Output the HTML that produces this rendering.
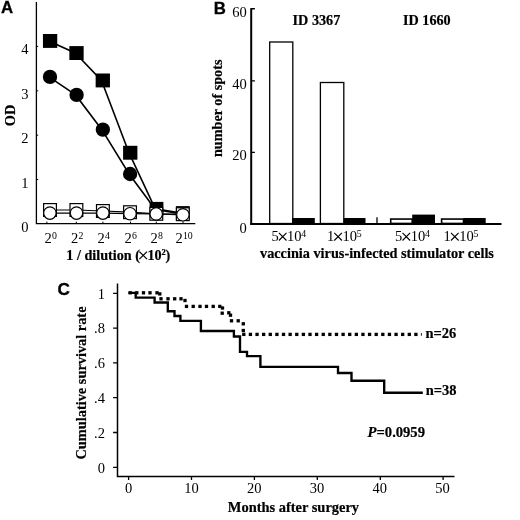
<!DOCTYPE html>
<html>
<head>
<meta charset="utf-8">
<title>Figure</title>
<style>
html,body{margin:0;padding:0;background:#fff;}
body{width:520px;height:520px;overflow:hidden;}
svg{display:block;will-change:transform;opacity:0.9999;}
text{font-family:"Liberation Serif",serif;fill:#000;}
.sans{font-family:"Liberation Sans",sans-serif;font-weight:bold;font-size:16.8px;stroke:#000;stroke-width:0.3px;}
.t{font-size:14.5px;}
.s{font-size:9.8px;}
.lbl{font-size:14.2px;font-weight:bold;stroke:#000;stroke-width:0.2px;}
</style>
</head>
<body>
<svg width="520" height="520" viewBox="0 0 520 520">
<rect x="0" y="0" width="520" height="520" fill="#fff"/>

<g id="panelA">
<text class="sans" x="1" y="13.1">A</text>
<path d="M36.4 2V224.2M35.8 223.6H195.3" stroke="#000" stroke-width="1.3" fill="none"/>
<path d="M36.4 46.4h1.8M36.4 90.8h1.8M36.4 135.2h1.8M36.4 179.5h1.8" stroke="#000" stroke-width="1" fill="none"/>
<path d="M46.9 223.6v-2M76.3 223.6v-2M102.9 223.6v-2M130.5 223.6v-2M156.3 223.6v-2M183 223.6v-2" stroke="#000" stroke-width="1" fill="none"/>
<g class="t" text-anchor="end">
<text x="28.6" y="54.4">4</text>
<text x="28.6" y="98.8">3</text>
<text x="28.6" y="143.2">2</text>
<text x="28.6" y="187.5">1</text>
<text x="28.6" y="231.8">0</text>
</g>
<text class="lbl" transform="translate(15.2,115.5) rotate(-90)" text-anchor="middle" style="font-size:14.4px">OD</text>
<text class="t" x="44.4" y="242.5">2</text><text class="s" x="51.9" y="239.4">0</text>
<text class="t" x="70.9" y="242.5">2</text><text class="s" x="78.4" y="239.4">2</text>
<text class="t" x="97.4" y="242.5">2</text><text class="s" x="104.9" y="239.4">4</text>
<text class="t" x="124.4" y="242.5">2</text><text class="s" x="131.9" y="239.4">6</text>
<text class="t" x="150.6" y="242.5">2</text><text class="s" x="158.1" y="239.4">8</text>
<text class="t" x="175.4" y="242.5">2</text><text class="s" x="182.9" y="239.4">10</text>
<text class="lbl" x="66.3" y="259.6">1 / dilution (</text>
<path d="M139.40 251.60L147.00 259.20M139.40 259.20L147.00 251.60" stroke="#000" stroke-width="1.2" fill="none"/>
<text class="lbl" x="147.4" y="259.6">10</text><text class="lbl" x="161.6" y="255.4" style="font-size:8.5px">2</text><text class="lbl" x="165.4" y="259.6">)</text>
<path d="M48.8 40.9L75.2 53L101.5 80.4L128.95 152.7L155.2 208.8L181.5 213" stroke="#000" stroke-width="1.6" fill="none"/>
<path d="M49.0 76.9L75.6 94.9L101.85 129.65L129.1 174L155.4 209.5L181.8 214" stroke="#000" stroke-width="1.6" fill="none"/>
<g fill="#000">
<rect x="42.95" y="34.00" width="14.3" height="13.9"/>
<rect x="69.35" y="46.10" width="14.3" height="13.9"/>
<rect x="95.65" y="73.50" width="14.3" height="13.9"/>
<rect x="123.10" y="145.80" width="14.3" height="13.9"/>
<rect x="149.60" y="201.90" width="13.8" height="13.9"/>
<rect x="175.90" y="206.10" width="13.8" height="13.9"/>
<circle cx="50" cy="76.9" r="7.15"/>
<circle cx="76.6" cy="94.9" r="7.15"/>
<circle cx="102.85" cy="129.65" r="7.15"/>
<circle cx="130.1" cy="174" r="7.15"/>
</g>
<path d="M50 210L76.4 210L102.9 211L130 212.2L156.3 213.8L182.8 214.2" stroke="#000" stroke-width="1.2" fill="none"/>
<g fill="#fff" stroke="#000" stroke-width="1.2">
<rect x="43.60" y="203.60" width="12.8" height="12.8"/>
<rect x="70.00" y="203.60" width="12.8" height="12.8"/>
<rect x="96.50" y="204.60" width="12.8" height="12.8"/>
<rect x="123.60" y="205.80" width="12.8" height="12.8"/>
<rect x="149.90" y="207.40" width="12.8" height="12.8"/>
<rect x="176.40" y="207.80" width="12.8" height="12.8"/>
</g>
<path d="M49.9 213.1L76.5 213.1L102.9 213.1L130 213.7L156.2 213.9L182.9 214.8" stroke="#000" stroke-width="1.2" fill="none"/>
<g fill="#fff" stroke="#000" stroke-width="1.15">
<circle cx="49.9" cy="213.1" r="6.2"/>
<circle cx="76.5" cy="213.1" r="6.2"/>
<circle cx="102.9" cy="213.1" r="6.2"/>
<circle cx="130" cy="213.7" r="6.2"/>
<circle cx="156.2" cy="213.9" r="6.2"/>
<circle cx="182.9" cy="214.8" r="6.2"/>
</g>
</g>
<g id="panelB">
<text class="sans" x="213.7" y="14.3">B</text>
<path d="M251.2 8.1V224.6" stroke="#000" stroke-width="2" fill="none"/><path d="M250.2 224H501.5" stroke="#000" stroke-width="1.8" fill="none"/>
<path d="M251.2 8.8h3.7M251.2 80.9h3.7M251.2 152.4h3.7" stroke="#000" stroke-width="1.4" fill="none"/>
<g class="t" text-anchor="end">
<text x="246.8" y="17.2">60</text>
<text x="246.8" y="88.9">40</text>
<text x="246.8" y="160.4">20</text>
<text x="246.8" y="232.9">0</text>
</g>
<text class="lbl" transform="translate(222.4,108.3) rotate(-90)" text-anchor="middle">number of spots</text>
<text class="lbl" x="292.6" y="25.1">ID 3367</text>
<text class="lbl" x="403" y="25.1">ID 1660</text>
<g fill="#fff" stroke="#000" stroke-width="1.3">
<rect x="269.7" y="42" width="23.1" height="181.5"/>
<rect x="320.4" y="82.5" width="23.4" height="141.0"/>
</g><g fill="#fff" stroke="#000" stroke-width="1.6">
<rect x="390.7" y="219.05" width="21.5" height="4.4"/>
<rect x="441.6" y="219.05" width="21.9" height="4.4"/>
</g><g fill="#000">
<rect x="292" y="218" width="22.8" height="5.8"/>
<rect x="343.8" y="218" width="21.7" height="5.8"/>
<rect x="412.2" y="214.6" width="22.8" height="9.2"/>
<rect x="463.5" y="218" width="22.2" height="5.8"/>
</g>
<path d="M377 217.2V223.5" stroke="#000" stroke-width="1.3"/>
<text class="t" x="271.5" y="240.9">5</text>
<path d="M278.90 232.90L286.50 240.50M278.90 240.50L286.50 232.90" stroke="#000" stroke-width="1.1" fill="none"/>
<text class="t" x="287.1" y="240.9">10</text><text class="s" x="301.3" y="236.9">4</text>
<text class="t" x="326.9" y="240.9">1</text>
<path d="M334.30 232.90L341.90 240.50M334.30 240.50L341.90 232.90" stroke="#000" stroke-width="1.1" fill="none"/>
<text class="t" x="342.5" y="240.9">10</text><text class="s" x="356.7" y="236.9">5</text>
<text class="t" x="395.1" y="240.9">5</text>
<path d="M402.50 232.90L410.10 240.50M402.50 240.50L410.10 232.90" stroke="#000" stroke-width="1.1" fill="none"/>
<text class="t" x="410.70000000000005" y="240.9">10</text><text class="s" x="424.90000000000003" y="236.9">4</text>
<text class="t" x="443.6" y="240.9">1</text>
<path d="M451.00 232.90L458.60 240.50M451.00 240.50L458.60 232.90" stroke="#000" stroke-width="1.1" fill="none"/>
<text class="t" x="459.20000000000005" y="240.9">10</text><text class="s" x="473.40000000000003" y="236.9">5</text>
<text class="lbl" x="260" y="258" style="font-size:14.27px">vaccinia virus-infected stimulator cells</text>
</g>
<g id="panelC">
<text class="sans" x="57.6" y="295.3" style="font-size:17.2px">C</text>
<path d="M117.5 283.5V477.3M116.8 476.5H454.5" stroke="#000" stroke-width="1.5" fill="none"/>
<path d="M117.5 293.3h-4.4M117.5 328.1h-4.4M117.5 362.9h-4.4M117.5 397.7h-4.4M117.5 432.5h-4.4M117.5 467.3h-4.4" stroke="#000" stroke-width="1.3" fill="none"/>
<path d="M128.6 476.5v3.6M191.5 476.5v3.6M254.4 476.5v3.6M317.3 476.5v3.6M380.3 476.5v3.6M443.1 476.5v3.6" stroke="#000" stroke-width="1.3" fill="none"/>
<g class="t" text-anchor="end">
<text x="104.9" y="298.6">1</text>
<text x="104.9" y="333.4">.8</text>
<text x="104.9" y="368.2">.6</text>
<text x="104.9" y="403.0">.4</text>
<text x="104.9" y="437.8">.2</text>
<text x="104.9" y="472.6">0</text>
</g>
<g class="t" text-anchor="middle">
<text x="128.6" y="493.2">0</text>
<text x="191.4" y="493.2">10</text>
<text x="254.2" y="493.2">20</text>
<text x="317" y="493.2">30</text>
<text x="379.8" y="493.2">40</text>
<text x="442.6" y="493.2">50</text>
</g>
<text class="lbl" transform="translate(86.2,383) rotate(-90)" text-anchor="middle" style="font-size:14.35px">Cumulative survival rate</text>
<text class="lbl" x="227.8" y="511.5" style="font-size:14.45px">Months after surgery</text>
<text class="lbl" x="425.4" y="338.3" style="font-size:14.5px">n=26</text>
<text class="lbl" x="425.8" y="395" style="font-size:14.5px">n=38</text>
<text class="lbl" x="367.6" y="436.9" style="font-size:14.6px"><tspan font-style="italic">P</tspan>=0.0959</text>
<path d="M128.4 292.8H135.7V297.6H154.6V302.5H167.8V311.2H174.5V316H180.4V320.8H200.9V331H233.9V336.5H240V351.8H247V356.1H260.4V366.8H338V373H351.5V380.7H384.2V392.7H422.8" stroke="#000" stroke-width="2.35" fill="none" stroke-linejoin="miter"/>
<g fill="#000">
<rect x="128.55" y="291.15" width="3.3" height="3.3"/>
<rect x="135.15" y="291.15" width="3.3" height="3.3"/>
<rect x="141.85" y="291.15" width="3.3" height="3.3"/>
<rect x="148.35" y="291.15" width="3.3" height="3.3"/>
<rect x="155.35" y="291.15" width="3.3" height="3.3"/>
<rect x="158.15" y="292.25" width="3.3" height="3.3"/>
<rect x="159.35" y="297.15" width="3.3" height="3.3"/>
<rect x="166.35" y="297.15" width="3.3" height="3.3"/>
<rect x="173.05" y="297.15" width="3.3" height="3.3"/>
<rect x="179.35" y="297.15" width="3.3" height="3.3"/>
<rect x="183.35" y="298.85" width="3.3" height="3.3"/>
<rect x="184.85" y="304.75" width="3.3" height="3.3"/>
<rect x="191.55" y="304.75" width="3.3" height="3.3"/>
<rect x="198.35" y="304.75" width="3.3" height="3.3"/>
<rect x="204.85" y="304.75" width="3.3" height="3.3"/>
<rect x="211.55" y="304.75" width="3.3" height="3.3"/>
<rect x="218.15" y="304.75" width="3.3" height="3.3"/>
<rect x="220.85" y="306.35" width="3.3" height="3.3"/>
<rect x="220.55" y="311.55" width="3.3" height="3.3"/>
<rect x="227.15" y="311.15" width="3.3" height="3.3"/>
<rect x="228.85" y="313.55" width="3.3" height="3.3"/>
<rect x="229.85" y="319.15" width="3.3" height="3.3"/>
<rect x="236.55" y="319.15" width="3.3" height="3.3"/>
<rect x="241.65" y="322.15" width="3.3" height="3.3"/>
<rect x="241.65" y="328.85" width="3.3" height="3.3"/>
<rect x="242.15" y="332.75" width="3.3" height="3.3"/>
<rect x="248.77" y="332.75" width="3.3" height="3.3"/>
<rect x="255.39" y="332.75" width="3.3" height="3.3"/>
<rect x="262.01" y="332.75" width="3.3" height="3.3"/>
<rect x="268.63" y="332.75" width="3.3" height="3.3"/>
<rect x="275.25" y="332.75" width="3.3" height="3.3"/>
<rect x="281.87" y="332.75" width="3.3" height="3.3"/>
<rect x="288.49" y="332.75" width="3.3" height="3.3"/>
<rect x="295.11" y="332.75" width="3.3" height="3.3"/>
<rect x="301.73" y="332.75" width="3.3" height="3.3"/>
<rect x="308.35" y="332.75" width="3.3" height="3.3"/>
<rect x="314.97" y="332.75" width="3.3" height="3.3"/>
<rect x="321.59" y="332.75" width="3.3" height="3.3"/>
<rect x="328.21" y="332.75" width="3.3" height="3.3"/>
<rect x="334.83" y="332.75" width="3.3" height="3.3"/>
<rect x="341.45" y="332.75" width="3.3" height="3.3"/>
<rect x="348.07" y="332.75" width="3.3" height="3.3"/>
<rect x="354.69" y="332.75" width="3.3" height="3.3"/>
<rect x="361.31" y="332.75" width="3.3" height="3.3"/>
<rect x="367.93" y="332.75" width="3.3" height="3.3"/>
<rect x="374.55" y="332.75" width="3.3" height="3.3"/>
<rect x="381.17" y="332.75" width="3.3" height="3.3"/>
<rect x="387.79" y="332.75" width="3.3" height="3.3"/>
<rect x="394.41" y="332.75" width="3.3" height="3.3"/>
<rect x="401.03" y="332.75" width="3.3" height="3.3"/>
<rect x="407.65" y="332.75" width="3.3" height="3.3"/>
<rect x="414.27" y="332.75" width="3.3" height="3.3"/>
<rect x="420.9" y="333.1" width="0.9" height="2.6"/>
</g>
</g>
</svg>
</body>
</html>
